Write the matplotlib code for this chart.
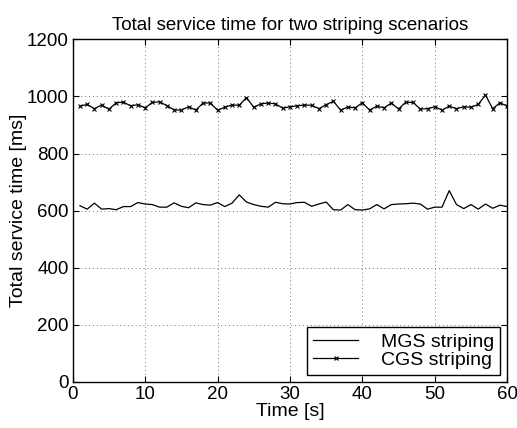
import matplotlib
matplotlib.use('Agg')
import matplotlib.pyplot as plt

plt.rcParams['font.family'] = ['Liberation Sans', 'DejaVu Sans']

t = list(range(1, 61))
mgs = [617, 605, 626, 605, 607, 603, 614, 614, 628, 623,
       621, 612, 612, 627, 615, 610, 627, 621, 619, 628,
       614, 626, 655, 630, 621, 615, 612, 629, 624, 623,
       628, 629, 615, 623, 630, 603, 602, 621, 603, 602,
       606, 621, 606, 621, 623, 624, 626, 623, 605, 612,
       612, 670, 621, 607, 621, 605, 623, 608, 619, 614]
cgs = [966, 972, 957, 970, 955, 978, 980, 967, 971, 960,
       979, 981, 968, 953, 952, 964, 952, 977, 977, 952,
       962, 970, 969, 996, 962, 974, 977, 974, 959, 964,
       967, 970, 969, 957, 971, 983, 952, 963, 960, 978,
       952, 966, 960, 977, 956, 980, 979, 956, 957, 964,
       952, 966, 957, 964, 962, 972, 1005, 957, 978, 966]

fig = plt.figure(figsize=(5.17, 4.28), dpi=100)
ax = fig.add_axes([0.1406, 0.108, 0.8404, 0.800])

ax.plot(t, mgs, color='black', lw=0.9, label='MGS striping')
ax.plot(t, cgs, color='black', lw=0.9, marker='x', ms=3.5, mew=0.8,
        label='CGS striping')

ax.set_xlim(0, 60)
ax.set_ylim(0, 1200)
ax.set_xticks(range(0, 61, 10))
ax.set_yticks(range(0, 1201, 200))
ax.grid(True, linestyle=(0, (1, 3)), color='#777777', lw=0.7)
ax.tick_params(direction='in', labelsize=13.5, length=4, top=True, right=True, pad=3)
for s in ax.spines.values():
    s.set_color('black')
    s.set_linewidth(1.0)

ax.set_title('Total service time for two striping scenarios', fontsize=13.5, pad=7)
ax.set_xlabel('Time [s]', fontsize=14, labelpad=0)
ax.set_ylabel('Total service time [ms]', fontsize=14, labelpad=0)

leg = ax.legend(loc='lower right', fontsize=14, fancybox=False, framealpha=1,
                edgecolor='black', borderaxespad=0.35, handlelength=2.3,
                handletextpad=1.2, borderpad=0.3, labelspacing=0.05)
leg.get_frame().set_linewidth(1.0)

fig.savefig('out.png', dpi=100)
